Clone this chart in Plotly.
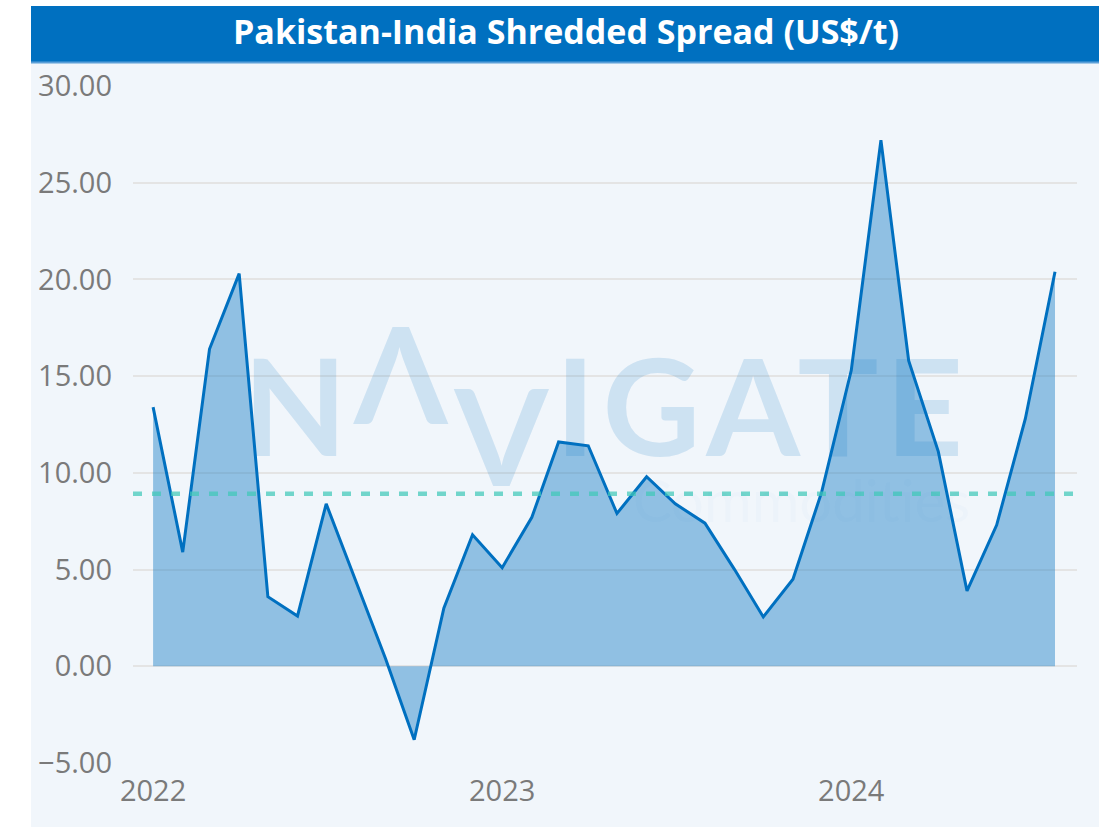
import plotly.graph_objects as go

# ---------------- data ----------------
months = ["2022-01", "2022-02", "2022-03", "2022-04", "2022-05", "2022-06",
          "2022-07", "2022-08", "2022-09", "2022-10", "2022-11", "2022-12",
          "2023-01", "2023-02", "2023-03", "2023-04", "2023-05", "2023-06",
          "2023-07", "2023-08", "2023-09", "2023-10", "2023-11", "2023-12",
          "2024-01", "2024-02", "2024-03", "2024-04", "2024-05", "2024-06",
          "2024-07", "2024-08"]
spread = [13.4, 5.9, 16.4, 20.3, 3.6, 2.6, 8.4, 4.4, 0.4, -3.8, 3.0, 6.8,
          5.1, 7.7, 11.6, 11.4, 7.9, 9.8, 8.4, 7.4, 5.0, 2.55, 4.5, 9.0,
          15.3, 27.2, 15.8, 11.1, 3.9, 7.3, 12.8, 20.4]
average = sum(spread) / len(spread)
y_ticks = [-5, 0, 5, 10, 15, 20, 25, 30]
x_ticks = ["2022-01-01", "2023-01-01", "2024-01-01"]
x_tick_labels = ["2022", "2023", "2024"]
title_text = "Pakistan-India Shredded Spread (US$/t)"

# ---------------- layout helpers (pixel -> paper) ----------------
W, H = 1114, 827
def px(x):
    return x / W
def py(y):
    return 1 - y / H

BLUE = "#0070C0"
PANEL = "#F1F6FB"
TICK_FONT = dict(family="Open Sans, sans-serif", size=29, color="#7a7a7a")

fig = go.Figure()
fig.add_trace(go.Scatter(
    x=months, y=spread, mode="lines",
    line=dict(color=BLUE, width=3),
    fill="tozeroy", fillcolor="rgba(0,112,192,0.4)",
    hoverinfo="x+y", showlegend=False,
))

shapes = [
    # light panel
    dict(type="rect", xref="paper", yref="paper", x0=px(31), x1=px(1099),
         y0=0, y1=py(62), fillcolor=PANEL, line=dict(width=0), layer="below"),
    # title bar
    dict(type="rect", xref="paper", yref="paper", x0=px(31), x1=px(1099),
         y0=py(62), y1=py(6), fillcolor=BLUE, line=dict(width=0), layer="above"),
    dict(type="rect", xref="paper", yref="paper", x0=px(31), x1=px(1099),
         y0=py(63.5), y1=py(61.5), fillcolor="#5b9fd8", line=dict(width=0), layer="above"),
    # average line
    dict(type="line", xref="x domain", yref="y", x0=0, x1=1, y0=average, y1=average,
         line=dict(color="rgba(64,200,185,0.72)", width=4.5, dash="9px,10px"),
         layer="above"),
]

# watermark as one text: NΛVIGATE over Commodities
wm_text = ("<span style='font-size:135px;font-weight:bold;letter-spacing:7px'>"
           "N<span style='baseline-shift:32px'>Λ</span>"
           "<span style='baseline-shift:-30px'>V</span>IGATE</span><br>"
           "<span style='font-size:58px;font-weight:400;color:rgba(0,112,192,0.14)'>"
           "Commodities</span>")

annotations = [
    dict(text="<b>" + title_text + "</b>", xref="paper", yref="paper",
         x=px(566), y=py(31), xanchor="center", yanchor="middle", showarrow=False,
         font=dict(family="Open Sans, Noto Sans, sans-serif", size=34, color="white")),
    dict(text=wm_text, xref="paper", yref="paper", x=px(972), y=py(536),
         xanchor="right", yanchor="bottom", align="right", showarrow=False,
         font=dict(family="Lato, Noto Sans, sans-serif", size=51,
                   color="rgba(0,112,192,0.15)")),
]

fig.update_layout(
    width=W, height=H,
    margin=dict(l=0, r=0, t=0, b=0, pad=0, autoexpand=False),
    paper_bgcolor="white",
    plot_bgcolor="rgba(0,0,0,0)",
    shapes=shapes,
    annotations=annotations,
    showlegend=False,
    xaxis=dict(
        domain=[px(133), px(1077)],
        type="date",
        range=["2021-12-11", "2024-08-24"],
        tickvals=x_ticks, ticktext=x_tick_labels,
        showgrid=False, zeroline=False, showline=False, ticks="",
        tickfont=TICK_FONT, ticklabelstandoff=8, automargin=False,
    ),
    yaxis=dict(
        domain=[py(763), py(86)],
        range=[-5, 30],
        tickvals=y_ticks, tickformat=".2f",
        showgrid=True, gridcolor="#e4e4e4", gridwidth=1.6,
        zeroline=False, showline=False, ticks="",
        tickfont=TICK_FONT, ticklabelstandoff=20, automargin=False,
    ),
)

fig.write_html(
    "out.html",
    config={"displayModeBar": False},
    post_script="document.body.style.margin='0';document.body.style.overflow='hidden';",
)
